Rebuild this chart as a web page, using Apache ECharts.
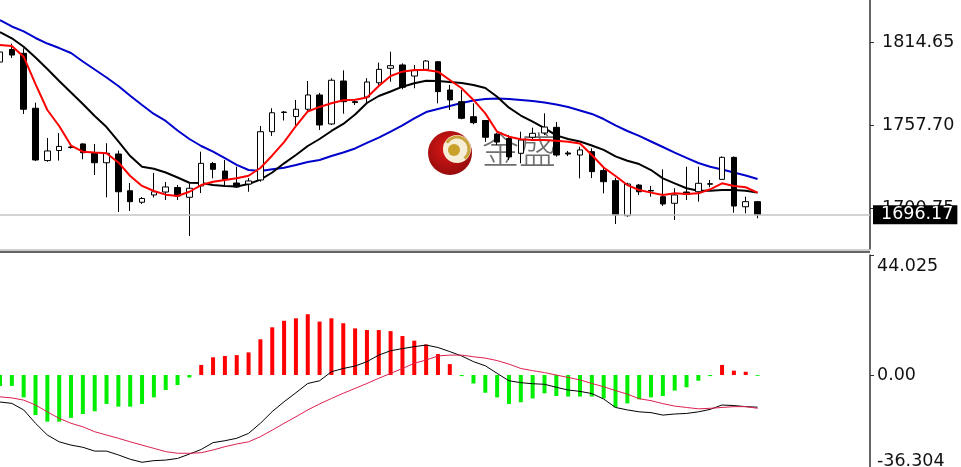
<!DOCTYPE html>
<html>
<head>
<meta charset="utf-8">
<script src="https://cdn.jsdelivr.net/npm/echarts@6/dist/echarts.min.js"></script>
<style>
html,body{margin:0;padding:0;background:#ffffff;}
#chart{width:961px;height:467px;}
</style>
</head>
<body>
<div id="chart"></div>
<script>
// ---------- data ----------
const barCount = 65;     // candles on screen
const slotCount = 74;    // candles + empty space to the right
const categories = Array.from({length: slotCount}, (_, i) => 'B' + (i + 1));

const openP = [1800.9,1809.5,1806.9,1769.2,1733.3,1740.2,1742.6,1744.7,1738.3,1731.8,
  1737.8,1712.6,1704.7,1709.7,1711.7,1714.8,1708.1,1715.9,1731.3,1726.1,
  1717.9,1717.2,1720.0,1753.1,1766.3,1763.5,1768.5,1778.3,1758.4,1787.9,
  1773.7,1776.9,1786.7,1796.6,1798.9,1791.3,1795.9,1801.1,1781.7,1773.7,
  1763.4,1760.8,1751.5,1748.4,1738.3,1749.3,1752.2,1756.1,1738.5,1737.1,
  1739.4,1726.4,1719.5,1695.5,1716.5,1712.8,1708.5,1704.0,1711.7,1711.9,
  1717.4,1720.4,1735.5,1701.6,1705.1];
const closeP = [1807.8,1805.7,1768.5,1733.7,1739.9,1743.0,1742.3,1738.7,1731.8,1738.3,
  1711.9,1705.1,1707.3,1711.9,1715.2,1709.0,1714.3,1731.4,1727.3,1720.4,
  1715.2,1719.3,1753.1,1766.1,1766.6,1768.5,1778.3,1757.7,1788.4,1773.7,
  1773.1,1787.2,1795.9,1798.4,1783.6,1795.0,1801.6,1780.6,1774.9,1762.3,
  1759.3,1749.3,1746.0,1735.8,1747.4,1752.0,1756.3,1737.1,1737.8,1740.6,
  1725.7,1718.8,1696.0,1717.2,1711.9,1712.4,1703.5,1709.7,1710.0,1717.7,
  1717.1,1735.5,1702.1,1705.1,1696.17];
const lowP = [1799.6,1803.7,1765.3,1733.0,1732.5,1733.3,1741.6,1734.2,1723.4,1708.1,
  1698.0,1698.7,1703.5,1708.0,1706.2,1706.2,1681.5,1711.0,1721.1,1715.4,
  1714.5,1711.9,1718.8,1750.2,1760.8,1757.7,1766.8,1754.3,1757.7,1765.5,
  1771.4,1772.1,1784.5,1787.4,1782.2,1782.9,1795.4,1772.6,1768.0,1761.6,
  1758.2,1746.2,1744.0,1733.7,1731.4,1747.4,1750.8,1736.0,1736.4,1721.1,
  1721.3,1710.8,1689.8,1694.8,1709.7,1708.5,1702.1,1692.5,1706.2,1705.1,
  1715.0,1720.0,1697.5,1697.1,1693.7];
const highP = [1809.2,1813.6,1810.3,1773.0,1748.8,1752.2,1743.3,1745.2,1744.7,1745.2,
  1740.1,1717.9,1708.3,1724.8,1718.6,1716.5,1717.7,1739.4,1732.3,1733.7,
  1729.1,1721.3,1757.0,1769.2,1767.3,1774.9,1787.9,1779.7,1789.8,1795.2,
  1775.5,1789.8,1800.5,1808.0,1800.0,1798.9,1802.3,1801.6,1785.2,1781.7,
  1772.6,1761.1,1752.2,1750.8,1753.1,1755.9,1765.7,1759.8,1739.9,1742.8,
  1741.7,1728.2,1721.3,1718.1,1717.2,1715.9,1727.3,1714.3,1729.1,1729.1,
  1720.0,1736.1,1736.1,1708.5,1705.6];

// moving averages
const maFast = [1812.6,1811.9,1804.6,1785.8,1768.0,1757.0,1743.6,1739.4,1738.8,1738.3,
  1732.0,1722.7,1715.9,1712.4,1709.9,1709.0,1711.9,1716.5,1718.8,1720.0,
  1721.1,1722.9,1728.2,1736.8,1746.0,1757.0,1767.0,1770.1,1772.6,1774.7,
  1775.1,1776.6,1784.5,1791.3,1794.3,1795.4,1795.4,1794.3,1788.6,1782.9,
  1774.9,1765.7,1753.1,1749.7,1747.9,1747.4,1747.4,1746.9,1746.2,1745.0,
  1737.1,1728.5,1722.7,1716.5,1713.1,1711.3,1709.7,1710.8,1710.4,1710.8,
  1713.6,1717.7,1715.9,1715.0,1711.3];
const maMid = [1821.5,1817.2,1811.4,1804.0,1796.1,1787.9,1780.0,1772.1,1763.9,1756.3,
  1746.4,1736.4,1729.1,1727.7,1725.1,1721.7,1718.1,1717.9,1716.5,1715.9,
  1715.5,1717.2,1720.2,1725.1,1731.4,1737.1,1743.3,1748.1,1753.6,1758.4,
  1764.9,1772.8,1777.6,1780.7,1784.0,1786.3,1788.1,1787.9,1787.2,1786.5,
  1785.2,1783.1,1777.1,1769.6,1764.2,1760.0,1755.6,1750.6,1748.1,1746.4,
  1743.6,1740.6,1736.2,1733.2,1730.9,1726.8,1721.1,1717.7,1714.3,1712.6,
  1712.6,1713.1,1713.1,1712.6,1711.3];
const maSlow = [1829.7,1825.3,1821.9,1817.4,1813.6,1810.5,1807.1,1801.3,1795.8,1790.3,
  1784.5,1777.8,1771.4,1765.3,1760.5,1753.9,1748.1,1743.3,1739.4,1734.9,
  1730.3,1726.8,1726.1,1727.3,1728.4,1730.3,1732.3,1733.7,1736.4,1738.8,
  1741.6,1745.4,1749.1,1753.2,1757.4,1762.2,1766.6,1768.7,1770.7,1772.8,
  1774.5,1775.5,1775.9,1775.5,1774.9,1774.2,1773.1,1771.8,1770.1,1767.7,
  1765.3,1761.8,1757.4,1753.6,1750.2,1746.4,1742.6,1738.8,1735.1,1731.6,
  1729.1,1727.2,1725.1,1723.1,1720.7];

// MACD panel
const macdHist = [-4.0,-4.0,-8.2,-14.7,-17.1,-17.1,-15.7,-14.3,-13.3,-10.6,
  -11.6,-11.6,-10.6,-8.2,-5.5,-3.7,-0.9,3.7,6.5,7.0,
  7.3,8.3,13.1,17.5,19.9,20.8,22.3,19.6,20.8,19.0,
  17.1,16.5,16.5,16.1,14.3,12.6,11.2,7.7,4.0,-0.4,
  -3.1,-6.5,-8.2,-10.6,-10.0,-8.6,-6.7,-7.7,-7.9,-7.9,
  -7.9,-8.6,-11.9,-10.4,-8.9,-8.2,-7.7,-5.7,-4.5,-2.1,
  -0.4,3.7,1.6,1.2,-0.3];
const macdLine = [-9.9,-10.4,-12.8,-17.7,-22.0,-24.5,-25.7,-26.5,-27.9,-27.9,
  -29.3,-30.9,-32.0,-31.4,-31.2,-30.6,-29.0,-27.3,-24.8,-24.1,
  -23.2,-21.4,-17.7,-13.4,-9.8,-6.5,-3.1,-2.1,1.2,2.4,
  3.3,4.9,7.3,8.9,9.7,10.4,11.0,10.1,8.6,7.0,
  4.9,3.4,0.6,-2.1,-2.8,-3.2,-3.4,-4.5,-5.5,-6.0,
  -6.8,-8.8,-11.9,-12.8,-13.5,-13.8,-14.7,-14.3,-14.1,-13.5,
  -12.6,-11.0,-11.2,-11.6,-11.8];
const signalLine = [-8.0,-8.4,-9.2,-11.0,-13.5,-15.9,-17.7,-19.0,-20.8,-22.0,
  -23.2,-24.5,-25.7,-26.9,-28.1,-28.7,-28.7,-28.5,-27.5,-26.3,
  -25.3,-24.5,-22.6,-20.2,-17.7,-15.3,-12.8,-10.6,-8.6,-6.7,
  -4.9,-3.1,-1.2,0.6,2.4,4.3,5.5,7.0,7.3,7.3,
  6.7,6.2,5.3,4.0,2.4,1.6,0.9,0.0,-0.9,-1.8,
  -3.1,-4.3,-5.7,-7.0,-8.7,-9.4,-10.5,-11.4,-11.9,-12.4,
  -12.2,-11.9,-11.6,-11.6,-12.2];

// axes / labels
const priceTicks = [1814.65, 1757.70, 1700.75];
const priceMin = 1672.62, priceMax = 1843.47;
const lastPrice = 1696.17;
const lastPriceLabel = '1696.17';
const macdTicks = [44.025, 0, -36.304];
const macdTickLabels = ['44.025', '0.00', '-36.304'];
const macdMin = -36.304, macdMax = 44.025;
const watermarkText = '金盛';

// ---------- chart ----------
const candleData = openP.map((o, i) => [o, closeP[i], lowP[i], highP[i]]);

const slotW = 870 / 73.5;
const gridLeft = -slotW / 2;
const gridWidth = slotW * slotCount;
const FONT = 'DejaVu Sans';

const chart = echarts.init(document.getElementById('chart'), null, {renderer: 'canvas'});

const option = {
  animation: false,
  backgroundColor: '#ffffff',
  grid: [
    {left: gridLeft, width: gridWidth, top: 0, height: 249, containLabel: false, outerBoundsMode: 'none'},
    {left: gridLeft, width: gridWidth, top: 255, height: 219, containLabel: false, outerBoundsMode: 'none'}
  ],
  xAxis: [
    {type: 'category', gridIndex: 0, data: categories, boundaryGap: true, show: false},
    {type: 'category', gridIndex: 1, data: categories, boundaryGap: true, show: false}
  ],
  yAxis: [
    {
      type: 'value', gridIndex: 0, position: 'right', min: priceMin, max: priceMax,
      splitLine: {show: false},
      axisLine: {show: true, lineStyle: {color: '#333333', width: 1.5}},
      axisTick: {show: true, inside: false, length: 4, customValues: priceTicks, lineStyle: {color: '#333333'}},
      axisLabel: {
        show: true, customValues: priceTicks, margin: 12,
        color: '#111111', fontFamily: FONT, fontSize: 17.5,
        formatter: v => Number(v).toFixed(2)
      }
    },
    {
      type: 'value', gridIndex: 1, position: 'right', min: macdMin, max: macdMax,
      splitLine: {show: false},
      axisLine: {show: true, lineStyle: {color: '#333333', width: 1.5}},
      axisTick: {show: true, inside: false, length: 4, customValues: macdTicks, lineStyle: {color: '#333333'}},
      axisLabel: {
        show: true, customValues: macdTicks, margin: 7,
        color: '#111111', fontFamily: FONT, fontSize: 17.5,
        formatter: v => {
          let idx = 0, best = Infinity;
          macdTicks.forEach((t, i) => { const d = Math.abs(t - v); if (d < best) { best = d; idx = i; } });
          const txt = macdTickLabels[idx];
          if (idx === 0) return '{top|' + txt + '}';
          if (idx === macdTicks.length - 1) return '{bot|' + txt + '}';
          return txt;
        },
        rich: {
          top: {padding: [22, 0, 0, 0], fontFamily: FONT, fontSize: 17.5, color: '#111111'},
          bot: {padding: [0, 0, 26, 0], fontFamily: FONT, fontSize: 17.5, color: '#111111'}
        }
      }
    }
  ],
  graphic: [
    // watermark logo
    {type: 'circle', z: 0, shape: {cx: 450, cy: 153, r: 22},
      style: {fill: new echarts.graphic.RadialGradient(0.45, 0.4, 0.7, [
        {offset: 0, color: '#e01818'}, {offset: 1, color: '#8a0a0a'}])}},
    {type: 'circle', z: 0, shape: {cx: 457, cy: 149, r: 14}, style: {fill: '#f6eed6'}},
    {type: 'arc', z: 0, shape: {cx: 457, cy: 149, r: 12, startAngle: -2.6, endAngle: 0.9}, style: {stroke: '#c9a43a', lineWidth: 3, fill: null}},
    {type: 'circle', z: 0, shape: {cx: 454, cy: 150, r: 6}, style: {fill: '#c8a02a'}},
    {type: 'text', z: 0, left: 482, top: 131,
      style: {text: watermarkText, fontFamily: 'Noto Sans CJK SC', fontSize: 37, fontWeight: 300, fill: '#555555', opacity: 0.85}},
    // panel separator
    {type: 'line', z: 10, shape: {x1: 0, y1: 250, x2: 870, y2: 250}, style: {stroke: '#9a9a9a', lineWidth: 1}},
    {type: 'line', z: 10, shape: {x1: 0, y1: 252, x2: 870, y2: 252}, style: {stroke: '#303030', lineWidth: 1.5}}
  ],
  series: [
    {
      type: 'line', name: 'MA slow', xAxisIndex: 0, yAxisIndex: 0, data: maSlow,
      symbol: 'none', lineStyle: {color: '#0000cc', width: 2}, z: 3
    },
    {
      type: 'line', name: 'MA mid', xAxisIndex: 0, yAxisIndex: 0, data: maMid,
      symbol: 'none', lineStyle: {color: '#000000', width: 2}, z: 3
    },
    {
      type: 'candlestick', name: 'price', xAxisIndex: 0, yAxisIndex: 0, data: candleData,
      barWidth: 6, clip: true, z: 4,
      itemStyle: {color: '#ffffff', color0: '#000000', borderColor: '#000000', borderColor0: '#000000', borderWidth: 1},
      markLine: {
        silent: true, symbol: ['none', 'none'], animation: false,
        data: [{yAxis: lastPrice}],
        lineStyle: {color: '#c4c4c4', width: 1.5, type: 'solid'},
        label: {
          show: true, position: 'end', distance: 3, formatter: lastPriceLabel,
          color: '#ffffff', backgroundColor: '#000000', padding: [4, 4, 0, 8],
          fontFamily: FONT, fontSize: 17.5, lineHeight: 15
        }
      }
    },
    {
      type: 'line', name: 'MA fast', xAxisIndex: 0, yAxisIndex: 0, data: maFast,
      symbol: 'none', lineStyle: {color: '#ff0000', width: 2}, z: 5
    },
    {
      type: 'bar', name: 'MACD hist', xAxisIndex: 1, yAxisIndex: 1, data: macdHist,
      barWidth: 4,
      itemStyle: {color: p => (p.value >= 0 ? '#ff0000' : '#00ee00')}
    },
    {
      type: 'line', name: 'MACD', xAxisIndex: 1, yAxisIndex: 1, data: macdLine,
      symbol: 'none', lineStyle: {color: '#000000', width: 1}
    },
    {
      type: 'line', name: 'Signal', xAxisIndex: 1, yAxisIndex: 1, data: signalLine,
      symbol: 'none', lineStyle: {color: '#dc2050', width: 1}
    }
  ]
};
chart.setOption(option);
</script>
</body>
</html>
